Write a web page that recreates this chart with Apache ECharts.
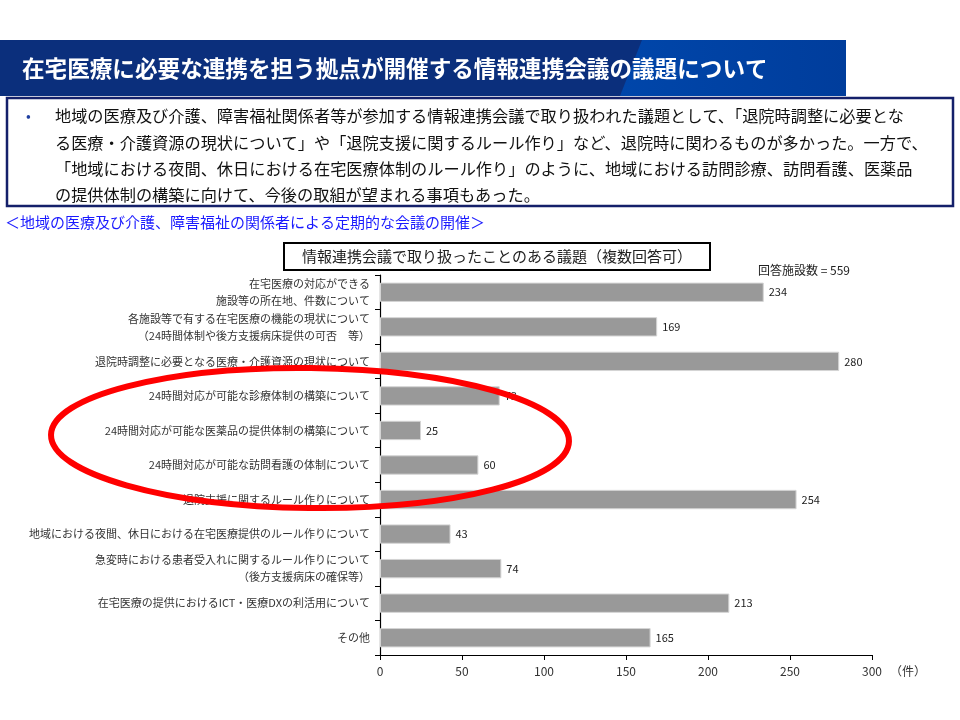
<!DOCTYPE html>
<html>
<head>
<meta charset="utf-8">
<script src="https://cdn.jsdelivr.net/npm/echarts@6/dist/echarts.min.js"></script>
<style>
html,body{margin:0;padding:0;background:#fff;}
#chart{width:960px;height:720px;}
</style>
</head>
<body>
<div id="chart"></div>
<script>
const FONT = '"Noto Sans CJK JP", "Noto Sans", sans-serif';

const categories = [
  '在宅医療の対応ができる\n施設等の所在地、件数について',
  '各施設等で有する在宅医療の機能の現状について\n（24時間体制や後方支援病床提供の可否　等）',
  '退院時調整に必要となる医療・介護資源の現状について',
  '24時間対応が可能な診療体制の構築について',
  '24時間対応が可能な医薬品の提供体制の構築について',
  '24時間対応が可能な訪問看護の体制について',
  '退院支援に関するルール作りについて',
  '地域における夜間、休日における在宅医療提供のルール作りについて',
  '急変時における患者受入れに関するルール作りについて\n（後方支援病床の確保等）',
  '在宅医療の提供におけるICT・医療DXの利活用について',
  'その他'
];
const values = [234, 169, 280, 73, 25, 60, 254, 43, 74, 213, 165];
const xTicks = [0, 50, 100, 150, 200, 250, 300];

const pageTitle = '在宅医療に必要な連携を担う拠点が開催する情報連携会議の議題について';
const bulletLines = [
  '地域の医療及び介護、障害福祉関係者等が参加する情報連携会議で取り扱われた議題として、「退院時調整に必要とな',
  'る医療・介護資源の現状について」や「退院支援に関するルール作り」など、退院時に関わるものが多かった。一方で、',
  '「地域における夜間、休日における在宅医療体制のルール作り」のように、地域における訪問診療、訪問看護、医薬品',
  'の提供体制の構築に向けて、今後の取組が望まれる事項もあった。'
];
const subTitle = '＜地域の医療及び介護、障害福祉の関係者による定期的な会議の開催＞';
const chartTitle = '情報連携会議で取り扱ったことのある議題（複数回答可）';
const respondents = '回答施設数 = 559';
const unitLabel = '（件）';

const chart = echarts.init(document.getElementById('chart'));

const graphics = [
  // title bar
  { type: 'rect', shape: { x: 0, y: 40, width: 846, height: 56 }, style: { fill: '#0b2f7c' }, z: 1 },
  { type: 'polygon', shape: { points: [[642, 40], [846, 40], [846, 96], [620, 96]] },
    style: { fill: new echarts.graphic.LinearGradient(0, 0, 1, 0, [
      { offset: 0, color: '#0046aa' }, { offset: 1, color: '#003d9c' }]) }, z: 1 },
  { type: 'text', x: 22, y: 68, style: { text: pageTitle, fill: '#ffffff', fontSize: 22.6, fontWeight: 'bold',
      fontFamily: FONT, verticalAlign: 'middle' }, z: 3 },
  // bullet box
  { type: 'rect', shape: { x: 7, y: 98, width: 946, height: 108 }, style: { fill: '#ffffff', stroke: '#14206a', lineWidth: 2.5 }, z: 2 },
  { type: 'text', x: 26, y: 116, style: { text: '•', fill: '#1f3fa0', fontSize: 14, fontFamily: FONT, verticalAlign: 'middle' }, z: 3 },
  { type: 'text', x: 55, y: 103, style: { text: bulletLines.join('\n'), fill: '#111111', fontSize: 16.2,
      lineHeight: 26.3, fontFamily: FONT, verticalAlign: 'top' }, z: 3 },
  { type: 'text', x: 5, y: 222, style: { text: subTitle, fill: '#1a1aff', fontSize: 15, fontFamily: FONT, verticalAlign: 'middle' }, z: 3 },
  // chart title box
  { type: 'rect', shape: { x: 284, y: 243, width: 426, height: 27 }, style: { fill: '#ffffff', stroke: '#000000', lineWidth: 2 }, z: 2 },
  { type: 'text', x: 497, y: 256.5, style: { text: chartTitle, fill: '#222222', fontSize: 15, fontFamily: FONT,
      align: 'center', verticalAlign: 'middle' }, z: 3 },
  { type: 'text', x: 758, y: 270, style: { text: respondents, fill: '#222222', fontSize: 12, fontFamily: FONT, verticalAlign: 'middle' }, z: 3 },
  // red ellipse annotation
  { type: 'ellipse', x: 310, y: 438, rotation: -0.012, shape: { cx: 0, cy: 0, rx: 259, ry: 70 },
    style: { fill: 'none', stroke: '#ff0000', lineWidth: 6 }, z: 100 }
];

chart.setOption({
  animation: false,
  backgroundColor: '#ffffff',
  textStyle: { fontFamily: FONT },
  grid: { left: 380, right: 88, top: 275, bottom: 65, containLabel: false },
  xAxis: {
    type: 'value', min: 0, max: 300, interval: 50,
    name: unitLabel, nameLocation: 'end', nameGap: 18,
    nameTextStyle: { fontSize: 12, color: '#333', fontFamily: FONT, verticalAlign: 'top', padding: [10, 0, 0, 0] },
    axisLine: { show: true, lineStyle: { color: '#000', width: 1.2 } },
    axisTick: { show: true, inside: false, length: 5, lineStyle: { color: '#000' } },
    axisLabel: { fontSize: 12, color: '#333', margin: 10, fontFamily: FONT,
      formatter: v => xTicks.indexOf(v) >= 0 ? String(v) : '' },
    splitLine: { show: false }
  },
  yAxis: {
    type: 'category', data: categories, inverse: true,
    axisLine: { show: true, lineStyle: { color: '#000', width: 1.2 } },
    axisTick: { show: true, length: 5, alignWithLabel: false, lineStyle: { color: '#000' } },
    axisLabel: { fontSize: 11, color: '#333', margin: 10, lineHeight: 17, fontFamily: FONT, align: 'right' }
  },
  series: [{
    type: 'bar', data: values, barWidth: '56%',
    itemStyle: { color: '#999999', borderColor: '#d4d4d4', borderWidth: 1 },
    label: { show: true, position: 'right', distance: 5, fontSize: 11, color: '#222', fontFamily: FONT }
  }],
  graphic: graphics
});
</script>
</body>
</html>
